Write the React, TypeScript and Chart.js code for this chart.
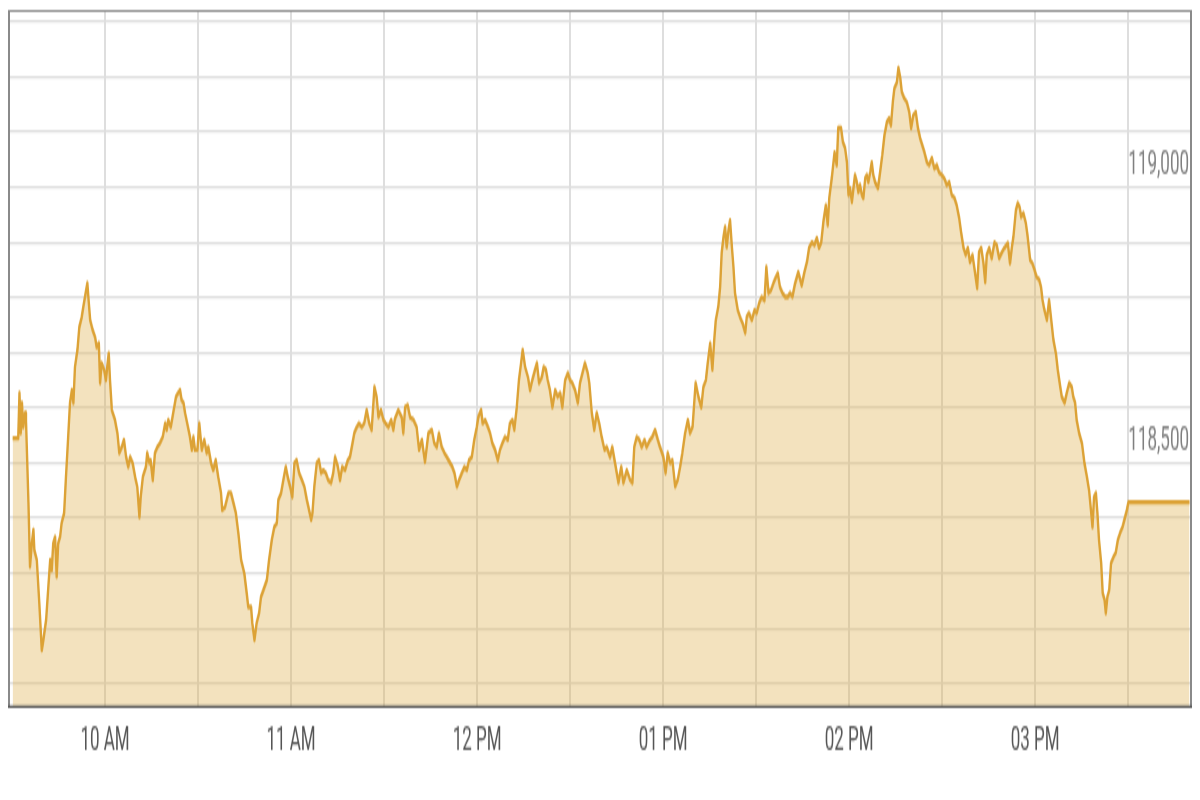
import React, { useEffect, useRef } from 'react';
import { Chart, registerables } from 'chart.js';

Chart.register(...registerables);

// Time of each sample, in minutes since midnight (09:30 … 15:50)
const minuteOfDay = [
  570.2, 572.0, 572.4, 572.8, 573.2, 573.6, 574.2, 574.5, 575.3, 575.8,
  576.4, 576.9, 577.2, 578.0, 578.8, 579.6, 580.1, 581.0, 581.7, 582.3,
  582.8, 583.3, 583.9, 584.4, 584.9, 585.5, 586.0, 586.8, 587.4, 588.0,
  588.7, 589.3, 589.8, 590.3, 591.1, 591.7, 592.5, 593.0, 593.9, 594.3,
  594.7, 595.2, 596.0, 596.8, 597.3, 598.0, 598.4, 598.9, 599.7, 600.3,
  600.7, 601.2, 601.6, 602.2, 603.2, 604.0, 604.6, 605.4, 606.1, 606.8,
  607.5, 608.1, 608.9, 609.7, 610.4, 611.1, 611.5, 612.2, 612.6, 613.2,
  613.6, 614.3, 614.7, 615.4, 616.1, 616.9, 617.7, 618.6, 619.4, 619.9,
  620.4, 621.2, 622.0, 622.9, 623.6, 624.2, 624.7, 625.3, 625.8, 626.5,
  627.4, 628.0, 628.5, 629.0, 629.8, 630.4, 631.2, 632.0, 632.8, 633.3,
  634.2, 634.9, 635.7, 636.5, 637.4, 637.8, 638.7, 639.8, 640.6, 641.4,
  642.2, 643.0, 643.9, 644.9, 645.7, 646.2, 647.1, 647.5, 648.2, 648.9,
  649.7, 650.3, 651.1, 652.2, 652.9, 653.8, 654.6, 655.4, 655.9, 656.8,
  657.5, 658.3, 658.9, 659.7, 660.4, 661.1, 661.8, 662.6, 663.5, 664.3,
  665.1, 665.6, 666.5, 666.9, 667.5, 668.3, 669.0, 669.7, 670.4, 671.2,
  672.0, 672.9, 673.6, 674.2, 675.1, 675.8, 676.5, 677.4, 678.3, 679.0,
  679.6, 680.4, 681.2, 681.9, 682.8, 683.6, 684.4, 685.2, 686.0, 686.9,
  687.6, 688.2, 689.0, 689.8, 690.5, 691.4, 692.3, 693.0, 693.5, 694.6,
  695.7, 696.2, 696.8, 697.6, 698.4, 699.5, 700.5, 701.3, 702.2, 703.2,
  704.3, 705.4, 706.2, 707.0, 707.7, 708.6, 709.5, 710.2, 711.3, 712.0,
  712.7, 713.5, 714.2, 715.1, 715.9, 716.7, 717.4, 718.3, 719.1, 719.9,
  720.4, 721.3, 721.8, 722.6, 723.5, 724.2, 724.9, 725.8, 726.7, 727.4,
  728.2, 729.0, 729.9, 730.6, 731.4, 732.0, 732.8, 733.5, 734.2, 734.7,
  735.5, 736.4, 737.1, 737.8, 738.7, 739.3, 740.0, 740.9, 741.5, 742.2,
  742.8, 743.5, 744.3, 745.2, 746.0, 746.8, 747.5, 748.4, 749.3, 750.0,
  750.7, 751.6, 752.5, 753.2, 754.0, 754.8, 755.7, 756.2, 757.0, 757.8,
  758.6, 759.4, 760.2, 761.1, 761.8, 762.9, 763.6, 764.5, 765.6, 766.5,
  767.2, 768.3, 769.4, 770.1, 770.7, 771.5, 772.3, 773.1, 774.0, 774.7,
  775.8, 776.5, 777.4, 778.3, 779.0, 780.1, 780.8, 781.5, 782.3, 783.0,
  783.9, 784.7, 785.5, 786.2, 787.1, 788.0, 788.7, 789.5, 790.1, 790.5,
  791.4, 792.3, 793.0, 793.8, 794.4, 795.2, 795.9, 796.5, 797.0, 797.8,
  798.4, 798.9, 799.5, 800.0, 800.5, 801.1, 801.6, 802.2, 802.7, 803.2,
  804.1, 804.8, 805.6, 806.5, 807.0, 807.7, 808.6, 809.5, 810.2, 811.0,
  811.8, 812.7, 813.3, 814.0, 814.8, 815.6, 816.4, 817.0, 817.7, 818.5,
  819.4, 820.2, 821.0, 821.7, 822.6, 823.6, 824.7, 825.6, 826.4, 827.1,
  828.0, 828.8, 829.6, 830.3, 831.0, 831.7, 832.5, 833.1, 833.6, 834.4,
  835.3, 836.0, 836.5, 837.4, 838.0, 838.7, 839.3, 839.8, 840.3, 840.9,
  841.4, 841.9, 842.5, 843.0, 843.5, 844.1, 844.6, 845.2, 845.7, 846.2,
  846.8, 847.3, 847.8, 848.4, 849.3, 850.0, 850.7, 851.4, 852.2, 852.9,
  853.5, 854.1, 854.6, 855.4, 855.9, 856.5, 857.0, 857.8, 858.6, 859.4,
  860.0, 860.7, 861.5, 862.2, 862.9, 863.6, 864.3, 865.1, 865.8, 866.7,
  867.5, 868.3, 869.0, 869.9, 870.7, 871.5, 872.3, 873.1, 874.0, 874.7,
  875.5, 876.1, 876.9, 877.6, 878.3, 879.0, 879.8, 880.6, 881.3, 881.9,
  882.6, 883.3, 883.9, 884.4, 885.2, 886.0, 886.9, 887.6, 888.4, 889.3,
  890.1, 891.2, 891.9, 892.5, 893.0, 893.8, 894.4, 895.0, 895.5, 896.2,
  897.0, 897.6, 898.4, 899.1, 899.8, 900.5, 901.3, 901.9, 902.4, 903.0,
  903.8, 904.5, 905.2, 905.9, 906.7, 907.3, 908.1, 908.6, 909.5, 910.2,
  911.0, 911.8, 912.3, 912.9, 913.4, 914.2, 915.1, 915.9, 916.7, 917.4,
  918.1, 918.5, 919.0, 919.6, 920.1, 920.6, 921.3, 921.8, 922.4, 922.8,
  923.3, 923.9, 924.5, 925.3, 926.0, 926.7, 927.4, 928.2, 928.8, 929.6,
  930.1, 949.8,
];

const price = [
  118545, 118545, 118627, 118554, 118609, 118565, 118591, 118578, 118428, 118312,
  118355, 118379, 118342, 118324, 118246, 118161, 118179, 118216, 118275, 118324,
  118306, 118355, 118366, 118294, 118355, 118366, 118391, 118409, 118475, 118536,
  118609, 118632, 118609, 118674, 118705, 118746, 118765, 118783, 118813, 118826,
  118795, 118759, 118741, 118728, 118710, 118717, 118645, 118681, 118669, 118650,
  118674, 118699, 118650, 118596, 118578, 118554, 118518, 118529, 118542, 118511,
  118493, 118511, 118500, 118475, 118457, 118402, 118438, 118475, 118482, 118493,
  118518, 118500, 118505, 118469, 118518, 118529, 118536, 118547, 118572, 118560,
  118578, 118565, 118591, 118620, 118627, 118632, 118614, 118609, 118591, 118572,
  118547, 118524, 118547, 118524, 118524, 118572, 118524, 118542, 118518, 118529,
  118500, 118487, 118505, 118475, 118446, 118415, 118420, 118446, 118446, 118428,
  118409, 118373, 118324, 118301, 118264, 118239, 118239, 118210, 118179, 118210,
  118228, 118257, 118270, 118288, 118324, 118361, 118384, 118391, 118433, 118446,
  118469, 118493, 118475, 118457, 118438, 118500, 118505, 118482, 118469, 118457,
  118433, 118420, 118397, 118409, 118457, 118500, 118505, 118482, 118487, 118482,
  118469, 118464, 118482, 118511, 118493, 118469, 118493, 118487, 118505, 118511,
  118529, 118554, 118565, 118572, 118565, 118572, 118596, 118572, 118560, 118638,
  118620, 118583, 118596, 118578, 118572, 118565, 118578, 118560, 118580, 118596,
  118583, 118554, 118601, 118605, 118583, 118578, 118565, 118524, 118542, 118502,
  118554, 118560, 118536, 118529, 118554, 118529, 118518, 118511, 118500, 118493,
  118482, 118457, 118469, 118482, 118493, 118487, 118505, 118511, 118542, 118565,
  118583, 118596, 118572, 118578, 118565, 118554, 118536, 118524, 118505, 118524,
  118536, 118547, 118542, 118572, 118578, 118560, 118601, 118650, 118681, 118705,
  118674, 118656, 118632, 118650, 118669, 118681, 118645, 118656, 118674, 118669,
  118650, 118632, 118601, 118632, 118620, 118627, 118601, 118650, 118663, 118650,
  118645, 118632, 118609, 118645, 118663, 118681, 118663, 118645, 118591, 118560,
  118591, 118572, 118547, 118524, 118529, 118511, 118529, 118500, 118464, 118493,
  118464, 118487, 118469, 118464, 118529, 118547, 118542, 118529, 118542, 118529,
  118542, 118547, 118560, 118542, 118529, 118511, 118482, 118518, 118500, 118505,
  118457, 118469, 118493, 118518, 118554, 118578, 118554, 118565, 118614, 118645,
  118620, 118601, 118638, 118650, 118681, 118717, 118669, 118723, 118759, 118783,
  118819, 118881, 118910, 118928, 118891, 118922, 118940, 118891, 118855, 118808,
  118777, 118765, 118754, 118736, 118765, 118772, 118759, 118777, 118772, 118790,
  118801, 118795, 118855, 118808, 118813, 118826, 118837, 118844, 118819, 118808,
  118801, 118801, 118808, 118801, 118826, 118846, 118822, 118846, 118864, 118890,
  118900, 118895, 118908, 118890, 118900, 118937, 118967, 118931, 118980, 119016,
  119063, 119040, 119107, 119107, 119082, 119071, 119045, 118986, 118998, 118973,
  118998, 119022, 119009, 118991, 119004, 118986, 118980, 119016, 119022, 119009,
  119027, 119045, 119022, 119009, 118998, 119027, 119058, 119094, 119118, 119125,
  119112, 119154, 119179, 119190, 119216, 119198, 119172, 119161, 119154, 119136,
  119107, 119130, 119136, 119107, 119089, 119076, 119063, 119045, 119040, 119053,
  119034, 119040, 119027, 119022, 119016, 119004, 119009, 118986, 118980, 118967,
  118944, 118919, 118890, 118877, 118890, 118864, 118877, 118846, 118817, 118882,
  118890, 118864, 118828, 118877, 118890, 118871, 118900, 118895, 118871, 118882,
  118890, 118899, 118862, 118891, 118910, 118958, 118971, 118964, 118946, 118953,
  118935, 118910, 118868, 118862, 118850, 118837, 118832, 118819, 118795, 118777,
  118759, 118795, 118759, 118723, 118699, 118669, 118638, 118620, 118609, 118627,
  118645, 118638, 118620, 118609, 118578, 118554, 118536, 118500, 118475, 118451,
  118409, 118384, 118438, 118446, 118409, 118361, 118319, 118264, 118252, 118228,
  118257, 118270, 118319, 118330, 118337, 118361, 118373, 118384, 118397, 118415,
  118429, 118429,
];

const xTickMinutes = [600, 660, 720, 780, 840, 900];
const xTickLabels = ['10 AM', '11 AM', '12 PM', '01 PM', '02 PM', '03 PM'];
const yLabelValues = [118500, 119000];
const yLabelTexts = ['118,500', '119,000'];

const X_MIN = 568.7;
const X_MAX = 950.6;
const Y_MIN = 118056;
const Y_MAX = 119321;

const LINE_COLOR = '#DCA236';
const FILL_COLOR = 'rgba(222,172,70,0.35)';
const GRID_COLOR = '#dedede';

const noScalePadding = (s: any) => {
  s.paddingTop = 0;
  s.paddingBottom = 0;
  s.paddingLeft = 0;
  s.paddingRight = 0;
};

const framePlugin = {
  id: 'frame',
  afterDraw(chart: any) {
    const { ctx, chartArea: a } = chart;
    ctx.save();
    ctx.strokeStyle = '#8a8a8a';
    ctx.lineWidth = 1;
    ctx.beginPath();
    ctx.moveTo(a.left, a.top + 0.5);
    ctx.lineTo(a.right, a.top + 0.5);
    ctx.stroke();
    ctx.lineWidth = 2;
    ctx.beginPath();
    ctx.moveTo(a.left + 1, a.top);
    ctx.lineTo(a.left + 1, a.bottom);
    ctx.moveTo(a.right - 1, a.top);
    ctx.lineTo(a.right - 1, a.bottom);
    ctx.stroke();
    ctx.strokeStyle = '#555555';
    ctx.lineWidth = 1.2;
    ctx.beginPath();
    ctx.moveTo(a.left, a.bottom - 0.6);
    ctx.lineTo(a.right, a.bottom - 0.6);
    ctx.stroke();
    ctx.restore();
  },
};

export default function App() {
  const ref = useRef<HTMLCanvasElement>(null);

  useEffect(() => {
    if (!ref.current) return;
    const chart = new Chart(ref.current, {
      type: 'line',
      data: {
        datasets: [
          {
            data: minuteOfDay.map((m, i) => ({ x: m, y: price[i] })),
            borderColor: LINE_COLOR,
            backgroundColor: FILL_COLOR,
            borderWidth: 2.4,
            borderJoinStyle: 'round',
            pointRadius: 0,
            pointHoverRadius: 0,
            fill: 'start',
            tension: 0,
          },
        ],
      },
      options: {
        responsive: false,
        animation: false,
        events: [],
        layout: { padding: { left: 8, right: 8, top: 5, bottom: 0 } },
        plugins: { legend: { display: false }, tooltip: { enabled: false } },
        scales: {
          x: {
            type: 'linear',
            min: X_MIN,
            max: X_MAX,
            afterFit: (s: any) => {
              s.height = 46;
              noScalePadding(s);
            },
            border: { display: false },
            grid: {
              color: (c: any) => (c.tick && c.tick.value === 570 ? 'rgba(0,0,0,0)' : GRID_COLOR),
              lineWidth: 2,
              drawTicks: false,
            },
            ticks: {
              stepSize: 30,
              includeBounds: false,
              autoSkip: false,
              maxRotation: 0,
              padding: 7,
              color: '#555555',
              font: { family: 'Roboto', size: 17 },
              callback: (v: any) => {
                const i = xTickMinutes.indexOf(Number(v));
                return i >= 0 ? xTickLabels[i] : '';
              },
            },
          },
          y: {
            type: 'linear',
            position: 'right',
            min: Y_MIN,
            max: Y_MAX,
            afterFit: (s: any) => {
              s.width = 0;
              noScalePadding(s);
            },
            border: { display: false },
            grid: { color: GRID_COLOR, lineWidth: 1.2, drawTicks: false },
            ticks: {
              stepSize: 100,
              includeBounds: false,
              mirror: true,
              padding: -3,
              labelOffset: -11,
              color: '#808080',
              font: { family: 'Roboto', size: 17 },
              callback: (v: any) => {
                const i = yLabelValues.indexOf(Number(v));
                return i >= 0 ? yLabelTexts[i] : '';
              },
            },
          },
        },
      },
      plugins: [framePlugin],
    } as any);
    return () => chart.destroy();
  }, []);

  return (
    <div style={{ position: 'absolute', left: 0, top: 0, width: 1200, height: 800, background: '#ffffff' }}>
      <canvas
        ref={ref}
        width={1200}
        height={400}
        style={{ width: '1200px', height: '800px', display: 'block' }}
      />
    </div>
  );
}
